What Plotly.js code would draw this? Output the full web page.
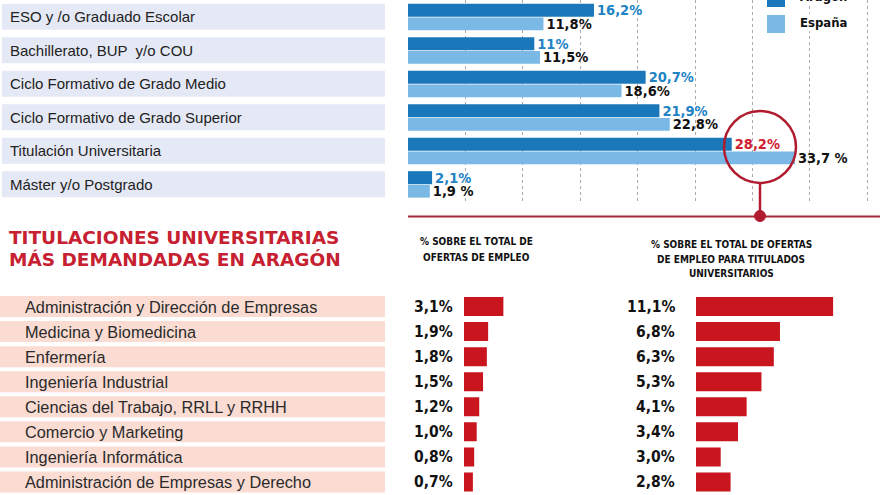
<!DOCTYPE html>
<html>
<head>
<meta charset="utf-8">
<script src="https://cdn.plot.ly/plotly-3.0.1.min.js"></script>
<style>
html,body{margin:0;padding:0;background:#fff;}
#chart{width:880px;height:495px;}
</style>
</head>
<body>
<div id="chart"></div>
<script>
// ---- data: nivel formativo ----
const niveles = ['ESO y /o Graduado Escolar', 'Bachillerato, BUP  y/o COU', 'Ciclo Formativo de Grado Medio', 'Ciclo Formativo de Grado Superior', 'Titulación Universitaria', 'Máster y/o Postgrado'];
const aragon = [16.2, 11, 20.7, 21.9, 28.2, 2.1];
const espana = [11.8, 11.5, 18.6, 22.8, 33.7, 1.9];
const aragonLabels = ['16,2%', '11%', '20,7%', '21,9%', '28,2%', '2,1%'];
const espanaLabels = ['11,8%', '11,5%', '18,6%', '22,8%', '33,7 %', '1,9 %'];

// ---- data: titulaciones universitarias ----
const titulaciones = ['Administración y Dirección de Empresas', 'Medicina y Biomedicina', 'Enfermería', 'Ingeniería Industrial', 'Ciencias del Trabajo, RRLL y RRHH', 'Comercio y Marketing', 'Ingeniería Informática', 'Administración de Empresas y Derecho'];
const ofertasTotal = [3.1, 1.9, 1.8, 1.5, 1.2, 1.0, 0.8, 0.7];
const ofertasTotalLabels = ['3,1%', '1,9%', '1,8%', '1,5%', '1,2%', '1,0%', '0,8%', '0,7%'];
const ofertasUniv = [11.1, 6.8, 6.3, 5.3, 4.1, 3.4, 2.0, 2.8];
const ofertasUnivLabels = ['11,1%', '6,8%', '6,3%', '5,3%', '4,1%', '3,4%', '3,0%', '2,8%'];

const W = 880, H = 495;
const px = x => x / W;
const py = y => 1 - y / H;
const NARROW = '"Liberation Sans Narrow", "DejaVu Sans Condensed", sans-serif';
const SANS = '"Liberation Sans", Arial, Helvetica, sans-serif';
const HEAVY = '"DejaVu Sans", "Liberation Sans", sans-serif';
const BLUE_D = '#1a77b9', BLUE_L = '#7ab8e6', RED = '#c8151e', RED_LINE = '#b01c2e';

const data = [
  {
    type: 'bar', orientation: 'h', name: 'Aragón',
    y: niveles, x: aragon, xaxis: 'x', yaxis: 'y',
    marker: {color: BLUE_D}, width: 0.39, offset: -0.39,
    text: aragonLabels, textposition: 'outside', constraintext: 'none', cliponaxis: false,
    textfont: {family: NARROW, size: 14.5, weight: 700, color: aragonLabels.map((t, i) => i === 4 ? '#d0202e' : '#2183c4')},
    hoverinfo: 'x+y'
  },
  {
    type: 'bar', orientation: 'h', name: 'España',
    y: niveles, x: espana, xaxis: 'x', yaxis: 'y',
    marker: {color: BLUE_L}, width: 0.38, offset: 0.02,
    text: espanaLabels, textposition: 'outside', constraintext: 'none', cliponaxis: false,
    textfont: {family: NARROW, size: 14.5, weight: 700, color: '#111'},
    hoverinfo: 'x+y'
  },
  {
    type: 'bar', orientation: 'h', name: 'Total',
    y: titulaciones, x: ofertasTotal, xaxis: 'x2', yaxis: 'y2',
    marker: {color: RED}, width: 0.76, hoverinfo: 'x+y'
  },
  {
    type: 'bar', orientation: 'h', name: 'Universitarios',
    y: titulaciones, x: ofertasUniv, xaxis: 'x3', yaxis: 'y3',
    marker: {color: RED}, width: 0.76, hoverinfo: 'x+y'
  }
];

const hiddenY = (domain, extra) => Object.assign({
  type: 'category', domain: domain, showticklabels: false, showgrid: false,
  zeroline: false, showline: false, ticks: ''
}, extra || {});

const shapes = [];
const annotations = [];

// light boxes behind the level names
niveles.forEach((n, i) => {
  shapes.push({type: 'rect', layer: 'below', xref: 'paper', yref: 'y', x0: px(2), x1: px(385),
    y0: i - 0.39, y1: i + 0.39, fillcolor: '#e5e9f5', line: {width: 0}});
  annotations.push({xref: 'paper', yref: 'y', x: px(8), y: n, text: n, showarrow: false,
    xanchor: 'left', yanchor: 'middle', font: {family: SANS, size: 15, color: '#222'}});
});

// pink boxes behind the degree names
titulaciones.forEach((n, i) => {
  shapes.push({type: 'rect', layer: 'below', xref: 'paper', yref: 'y2', x0: px(0), x1: px(385),
    y0: i - 0.42, y1: i + 0.42, fillcolor: '#fadcd3', line: {width: 0}});
  annotations.push({xref: 'paper', yref: 'y2', x: px(23), y: n, text: n, showarrow: false,
    xanchor: 'left', yanchor: 'middle', font: {family: SANS, size: 16.3, color: '#2a2a2a'}});
  annotations.push({xref: 'x2', yref: 'y2', x: 0, y: n, xshift: -9, text: ofertasTotalLabels[i], showarrow: false,
    xanchor: 'right', yanchor: 'middle', font: {family: NARROW, size: 15.5, weight: 700, color: '#111'}});
  annotations.push({xref: 'x3', yref: 'y3', x: 0, y: n, xshift: -19, text: ofertasUnivLabels[i], showarrow: false,
    xanchor: 'right', yanchor: 'middle', font: {family: NARROW, size: 15.5, weight: 700, color: '#111'}});
});

// legend (top right)
shapes.push({type: 'rect', xref: 'paper', yref: 'paper', x0: px(767), x1: px(785), y0: py(-11), y1: py(7), fillcolor: BLUE_D, line: {width: 0}});
shapes.push({type: 'rect', xref: 'paper', yref: 'paper', x0: px(767), x1: px(785), y0: py(15), y1: py(33), fillcolor: BLUE_L, line: {width: 0}});
annotations.push({xref: 'paper', yref: 'paper', x: px(798), y: py(-3), text: 'Aragón', showarrow: false, xanchor: 'left', yanchor: 'middle', bgcolor: '#fff',
  font: {family: NARROW, size: 13, weight: 700, color: '#111'}});
annotations.push({xref: 'paper', yref: 'paper', x: px(798), y: py(23), text: 'España', showarrow: false, xanchor: 'left', yanchor: 'middle', bgcolor: '#fff',
  font: {family: NARROW, size: 13, weight: 700, color: '#111'}});

// red highlight circle and connector
shapes.push({type: 'circle', xref: 'paper', yref: 'paper', x0: px(724), x1: px(796), y0: py(183), y1: py(111), line: {color: RED_LINE, width: 2.5}});
shapes.push({type: 'line', xref: 'paper', yref: 'paper', x0: px(760), x1: px(760), y0: py(183), y1: py(215), line: {color: RED_LINE, width: 2.5}});
shapes.push({type: 'line', xref: 'paper', yref: 'paper', x0: px(408), x1: px(880), y0: py(216.5), y1: py(216.5), line: {color: '#a52a3a', width: 2}});
shapes.push({type: 'circle', xref: 'paper', yref: 'paper', x0: px(754.5), x1: px(765.5), y0: py(221.5), y1: py(210.5), fillcolor: RED_LINE, line: {color: RED_LINE, width: 1}});

// section title
annotations.push({xref: 'paper', yref: 'paper', x: px(7), y: py(237), text: 'TITULACIONES UNIVERSITARIAS', showarrow: false, xanchor: 'left', yanchor: 'middle',
  font: {family: HEAVY, size: 18.5, weight: 700, color: '#c62031'}});
annotations.push({xref: 'paper', yref: 'paper', x: px(7), y: py(259), text: 'MÁS DEMANDADAS EN ARAGÓN', showarrow: false, xanchor: 'left', yanchor: 'middle',
  font: {family: HEAVY, size: 18.5, weight: 700, color: '#c62031'}});

// column headers
const hdr = (x, y, t) => annotations.push({xref: 'paper', yref: 'paper', x: px(x), y: py(y), text: t, showarrow: false, xanchor: 'center', yanchor: 'middle',
  font: {family: NARROW, size: 10, weight: 700, color: '#111'}});
hdr(476, 241, '% SOBRE EL TOTAL DE');
hdr(476, 257, 'OFERTAS DE EMPLEO');
hdr(731, 244, '% SOBRE EL TOTAL DE OFERTAS');
hdr(731, 259, 'DE EMPLEO PARA TITULADOS');
hdr(731, 273, 'UNIVERSITARIOS');

const layout = {
  width: W, height: H,
  margin: {l: 0, r: 0, t: 0, b: 0, pad: 0},
  paper_bgcolor: '#fff', plot_bgcolor: 'rgba(0,0,0,0)',
  showlegend: false,
  barmode: 'overlay',
  xaxis: {domain: [px(408), 1], range: [0, 41.115], dtick: 5, tick0: 0, showticklabels: false, ticks: '',
    showgrid: true, gridcolor: '#aaaaaa', gridwidth: 1, griddash: 'dot', zeroline: false, showline: false, fixedrange: true},
  yaxis: hiddenY([0.594, 1], {range: [5.5, -0.5], anchor: 'x'}),
  xaxis2: {domain: [px(464), px(524)], range: [0, 60 / 12.7], visible: false, anchor: 'y2'},
  yaxis2: hiddenY([1 - 494.5 / H, 1 - 294 / H], {range: [7.5, -0.5], anchor: 'x2'}),
  xaxis3: {domain: [px(696), px(856)], range: [0, 160 / 12.35], visible: false, anchor: 'y3'},
  yaxis3: hiddenY([1 - 494.5 / H, 1 - 294 / H], {range: [7.5, -0.5], anchor: 'x3'}),
  shapes: shapes,
  annotations: annotations
};

Plotly.newPlot('chart', data, layout, {displayModeBar: false, staticPlot: true});
</script>
</body>
</html>
